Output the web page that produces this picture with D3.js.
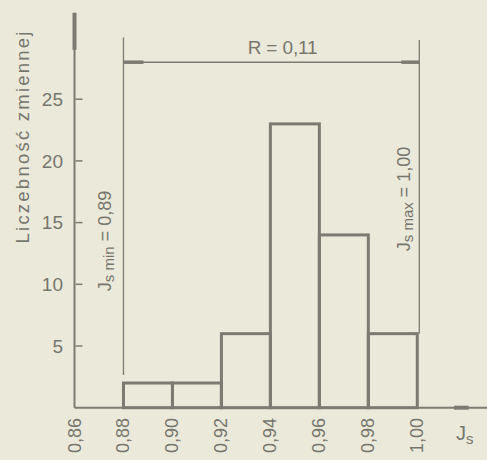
<!DOCTYPE html>
<html><head><meta charset="utf-8">
<script src="https://cdn.jsdelivr.net/npm/d3@7"></script>
<style>
html,body{margin:0;padding:0;background:#ebe9da;}
svg{display:block;}
text{font-family:"Liberation Sans",Arial,sans-serif;fill:#76766d;}
</style></head><body>
<svg id="c" width="487" height="460"></svg>
<script>
const binStarts = [0.88, 0.90, 0.92, 0.94, 0.96, 0.98];
const binWidth = 0.02;
const counts = [2, 2, 6, 23, 14, 6];
const yTicks = [5, 10, 15, 20, 25];
const xTicks = [0.86, 0.88, 0.90, 0.92, 0.94, 0.96, 0.98, 1.00];
const xTickLabels = ["0,86", "0,88", "0,90", "0,92", "0,94", "0,96", "0,98", "1,00"];
const yLabel = "Liczebność zmiennej";
const rangeLabel = "R = 0,11";
const jsMin = 0.88, jsMax = 1.00;

const W = 487, H = 460;
const svg = d3.select("#c");
const x = d3.scaleLinear().domain([0.86, 1.00]).range([74.5, 417.3]);
const y = d3.scaleLinear().domain([0, 25]).range([407.7, 99.2]);
const ink = "#7b7b72";

// bars
svg.append("g").selectAll("rect").data(binStarts).join("rect")
  .attr("x", d => x(d)).attr("width", d => x(d + binWidth) - x(d))
  .attr("y", (d, i) => y(counts[i])).attr("height", (d, i) => y(0) - y(counts[i]))
  .attr("fill", "none").attr("stroke", ink).attr("stroke-width", 3);

// axes
svg.append("line").attr("x1", x(0.86)).attr("x2", x(0.86)).attr("y1", y(0)).attr("y2", y(32))
  .attr("stroke", ink).attr("stroke-width", 2);
svg.append("line").attr("x1", x(0.86)).attr("x2", x(0.86)).attr("y1", y(29)).attr("y2", y(32))
  .attr("stroke", ink).attr("stroke-width", 4);
svg.append("line").attr("x1", x(0.86)).attr("x2", W).attr("y1", y(0)).attr("y2", y(0))
  .attr("stroke", ink).attr("stroke-width", 2);
svg.append("line").attr("x1", x(1.015)).attr("x2", x(1.021)).attr("y1", y(0)).attr("y2", y(0))
  .attr("stroke", ink).attr("stroke-width", 4);

// y ticks
const yt = svg.append("g").selectAll("g").data(yTicks).join("g")
  .attr("transform", d => `translate(0,${y(d)})`);
yt.append("line").attr("x1", x(0.86) + 1).attr("x2", x(0.86) + 8).attr("stroke", ink).attr("stroke-width", 1.5);
yt.append("text").attr("x", 63).attr("dy", "0.35em").attr("text-anchor", "end")
  .attr("font-size", 19).text(d => d);

// x tick labels
svg.append("g").selectAll("text").data(xTicks).join("text")
  .attr("transform", d => `translate(${x(d)},418) rotate(-90)`)
  .attr("text-anchor", "end").attr("dominant-baseline", "central")
  .attr("font-size", 18).text((d, i) => xTickLabels[i]);

// J_s axis label
const js = svg.append("text").attr("x", 456).attr("y", 440).attr("font-size", 20);
js.append("tspan").text("J");
js.append("tspan").attr("font-size", 15).attr("dy", 4).text("s");

// y axis label
svg.append("text").attr("transform", `translate(29,${(30 + 245) / 2}) rotate(-90)`)
  .attr("text-anchor", "middle").attr("font-size", 18.5)
  .attr("textLength", 212).attr("lengthAdjust", "spacing").text(yLabel);

// range dimension lines
svg.append("line").attr("x1", x(jsMin)).attr("x2", x(jsMin)).attr("y1", y(30)).attr("y2", y(2.65))
  .attr("stroke", ink).attr("stroke-width", 1.3);
svg.append("line").attr("x1", x(jsMax) + 2).attr("x2", x(jsMax) + 2).attr("y1", y(29.8)).attr("y2", y(6))
  .attr("stroke", ink).attr("stroke-width", 1.3);
svg.append("line").attr("x1", x(jsMin)).attr("x2", x(jsMax) + 2).attr("y1", y(28)).attr("y2", y(28))
  .attr("stroke", ink).attr("stroke-width", 1.5);
svg.append("line").attr("x1", x(jsMin)).attr("x2", x(jsMin) + 20).attr("y1", y(28)).attr("y2", y(28))
  .attr("stroke", ink).attr("stroke-width", 3.5);
svg.append("line").attr("x1", x(jsMax) + 2 - 18).attr("x2", x(jsMax) + 2).attr("y1", y(28)).attr("y2", y(28))
  .attr("stroke", ink).attr("stroke-width", 3.5);
svg.append("text").attr("x", x(0.945)).attr("y", 54).attr("text-anchor", "middle")
  .attr("font-size", 19).attr("textLength", 70).attr("lengthAdjust", "spacing").text(rangeLabel);

// rotated Js min / Js max labels
function jlab(cx, cy, sub, val) {
  const t = svg.append("text").attr("transform", `translate(${cx},${cy}) rotate(-90)`)
    .attr("text-anchor", "middle").attr("dominant-baseline", "central").attr("font-size", 18);
  t.append("tspan").text("J");
  t.append("tspan").attr("font-size", 15).attr("dy", 3).text(sub);
  t.append("tspan").attr("dy", -3).text(" = " + val);
}
jlab(105, 241, "s min", "0,89");
jlab(404, 199, "s max", "1,00");
</script>
</body></html>
